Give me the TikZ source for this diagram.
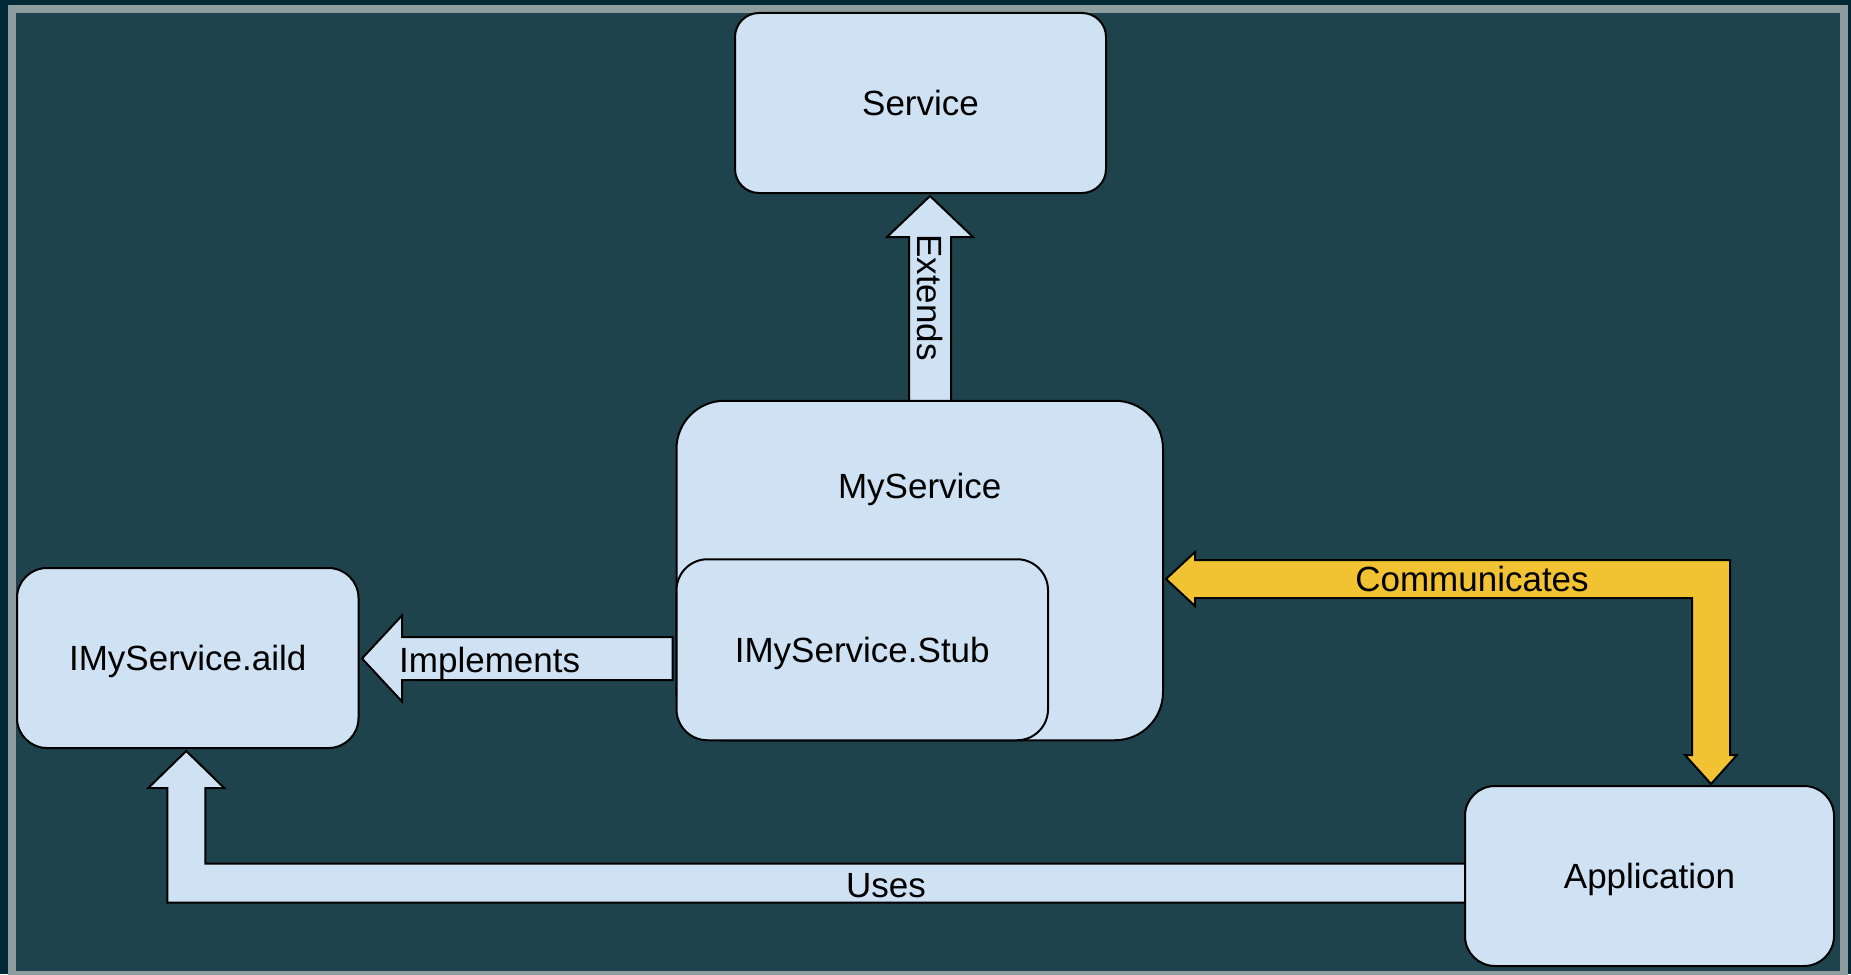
\documentclass[tikz,border=0pt]{standalone}
\usepackage{fontspec}
\setmainfont{Liberation Sans}
\usetikzlibrary{calc}
\definecolor{bgdark}{HTML}{012A36}
\definecolor{bgmain}{HTML}{1F434D}
\definecolor{framegray}{HTML}{8E9E9F}
\definecolor{boxfill}{HTML}{CFE2F3}
\definecolor{arrowyellow}{HTML}{F1C232}
\pgfdeclarelayer{bglayer}
\pgfdeclarelayer{arrlayer}
\pgfsetlayers{bglayer,arrlayer,main}
\begin{document}
\begin{tikzpicture}[x=1pt,y=-1pt,
  txt/.style={font=\fontsize{35pt}{42pt}\selectfont, text height=25pt, text depth=0pt},
  box/.style={txt, draw=black, line width=2pt, fill=boxfill, inner sep=0pt},
  lbl/.style={txt, inner sep=0pt},
  barrow/.style={draw=black, line width=2pt, fill=boxfill, line join=miter},
  yarrow/.style={barrow, fill=arrowyellow}]
\useasboundingbox (0,0) rectangle (1851,974);
% boxes
\node[box, minimum width=371pt, minimum height=180pt, rounded corners=24pt] (service) at (920.5,103) {Service};
\node[box, minimum width=486.5pt, minimum height=339.5pt, rounded corners=48pt] (myservice) at (919.75,570.5) {};
\node[box, anchor=south west, minimum width=371.5pt, minimum height=181pt, rounded corners=31pt] (stub) at (myservice.south west) {IMyService.Stub};
\node[box, minimum width=341.5pt, minimum height=180pt, rounded corners=30pt] (aild) at (187.75,658) {IMyService.aild};
\node[box, minimum width=369pt, minimum height=180pt, rounded corners=30pt] (application) at (1649.5,876) {Application};
\node[lbl] (mslabel) at ($(myservice.north)+(0,86.5)$) {MyService};
% background
\begin{pgfonlayer}{bglayer}
  \fill[bgdark] (0,0) rectangle (1851,974);
  \fill[bgmain] (12,9) rectangle (1844,975);
  \draw[framegray, line width=8pt] (12,9) rectangle (1844,975);
\end{pgfonlayer}
% arrows
\begin{pgfonlayer}{arrlayer}
  % Extends
  \coordinate (et) at ($(service.south)+(9.5,2)$);
  \draw[barrow] (et) -- ($(et)+(43,41)$) -- ($(et)+(21,41)$) -- ($(et |- myservice.north)+(21,2)$)
     -- ($(et |- myservice.north)+(-21,2)$) -- ($(et)+(-21,41)$) -- ($(et)+(-43,41)$) -- cycle;
  % Implements
  \coordinate (it) at ($(aild.east)+(2.5,0.5)$);
  \draw[barrow] (it) -- ($(it)+(40,-43)$) -- ($(it)+(40,-21.5)$) -- ($(stub.west |- it)+(-3,-21.5)$)
     -- ($(stub.west |- it)+(-3,21.5)$) -- ($(it)+(40,21.5)$) -- ($(it)+(40,43)$) -- cycle;
  % Uses
  \coordinate (ut) at ($(aild.south)+(-1.5,2)$);
  \coordinate (uc) at ($(application.west)+(0,7)$);
  \draw[barrow] (ut) -- ($(ut)+(38,37)$) -- ($(ut)+(19,37)$) -- ($(ut |- uc)+(19,-19.5)$)
     -- ($(uc)+(4,-19.5)$) -- ($(uc)+(4,19.5)$) -- ($(ut |- uc)+(-19,19.5)$)
     -- ($(ut)+(-19,37)$) -- ($(ut)+(-38,37)$) -- cycle;
  % Communicates
  \coordinate (ct) at ($(myservice.east)+(2,8.5)$);
  \coordinate (at) at ($(application.north)+(61.5,-1)$);
  \draw[yarrow] (ct) -- ($(ct)+(29,-27)$) -- ($(ct)+(29,-19)$) -- ($(ct -| at)+(19,-19)$)
     -- ($(at)+(19,-29)$) -- ($(at)+(26,-29)$) -- (at) -- ($(at)+(-26,-29)$) -- ($(at)+(-19,-29)$)
     -- ($(ct -| at)+(-19,19)$) -- ($(ct)+(29,19)$) -- ($(ct)+(29,27)$) -- cycle;
\end{pgfonlayer}
% arrow labels
\node[lbl, rotate=-90] (extlabel) at ($(et)+(0,101.5)$) {Extends};
\node[lbl, anchor=west] (implabel) at ($(it)+(37,1.5)$) {Implements};
\node[lbl] (useslabel) at ($(uc)+(-578,1.5)$) {Uses};
\node[lbl] (comlabel) at ($(ct)+(306,0)$) {Communicates};
\end{tikzpicture}
\end{document}
